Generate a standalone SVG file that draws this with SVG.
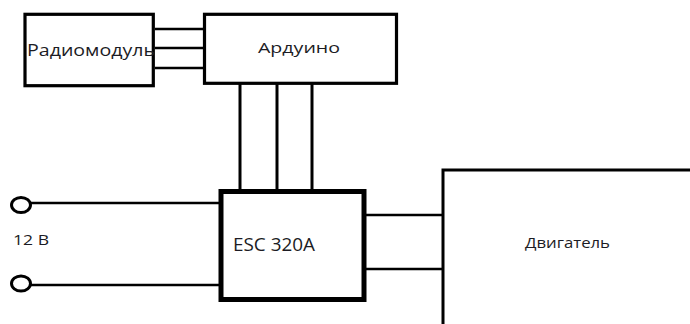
<svg xmlns="http://www.w3.org/2000/svg" width="690" height="324" viewBox="0 0 690 324">
<style>
.box{fill:#fff;stroke:#000;stroke-width:3.2}
.thick{fill:#fff;stroke:#000;stroke-width:5}
.w{stroke:#000;fill:none}
.t{font-family:"Open Sans","Liberation Sans",Arial,sans-serif;fill:#1c1c24}
</style>
<rect width="690" height="324" fill="#fff"/>
<g id="connectors">
<line class="w" x1="155" y1="29" x2="208" y2="29" stroke-width="2.6"/>
<line class="w" x1="155" y1="48" x2="208" y2="48" stroke-width="2.6"/>
<line class="w" x1="155" y1="68" x2="208" y2="68" stroke-width="2.6"/>
<line class="w" x1="240" y1="84" x2="240" y2="190" stroke-width="3"/>
<line class="w" x1="277" y1="84" x2="277" y2="190" stroke-width="3"/>
<line class="w" x1="312" y1="84" x2="312" y2="190" stroke-width="3"/>
<line class="w" x1="31" y1="203" x2="219" y2="203" stroke-width="2.4"/>
<line class="w" x1="31" y1="285" x2="219" y2="285" stroke-width="2.4"/>
<line class="w" x1="366" y1="215" x2="443" y2="215" stroke-width="2.4"/>
<line class="w" x1="366" y1="269" x2="443" y2="269" stroke-width="2.4"/>
</g>
<g id="radiomodule">
<rect class="box" x="25" y="14.3" width="128.3" height="71.4"/>
<text class="t" x="27" y="56" font-size="16.5" textLength="128" lengthAdjust="spacingAndGlyphs">Радиомодуль</text>
</g>
<g id="arduino">
<rect class="box" x="204.5" y="14.3" width="192" height="69"/>
<text class="t" x="258" y="53" font-size="15" textLength="82" lengthAdjust="spacingAndGlyphs">Ардуино</text>
</g>
<g id="esc">
<rect class="thick" x="221" y="191.5" width="143" height="108"/>
<text class="t" x="233" y="251" font-size="17.5" textLength="82" lengthAdjust="spacingAndGlyphs">ESC 320A</text>
</g>
<g id="terminal1">
<ellipse cx="21" cy="205" rx="9.5" ry="7.5" fill="#fff" stroke="#000" stroke-width="3"/>
</g>
<g id="terminal2">
<ellipse cx="21" cy="283.5" rx="9.5" ry="7.5" fill="#fff" stroke="#000" stroke-width="3"/>
</g>
<g id="voltage">
<text class="t" x="13" y="245" font-size="14" textLength="36" lengthAdjust="spacingAndGlyphs">12 В</text>
</g>
<g id="motor">
<path d="M443 326 V170 H692" fill="#fff" stroke="#000" stroke-width="3"/>
<text class="t" x="525" y="248" font-size="14.5" textLength="85" lengthAdjust="spacingAndGlyphs">Двигатель</text>
</g>
</svg>
